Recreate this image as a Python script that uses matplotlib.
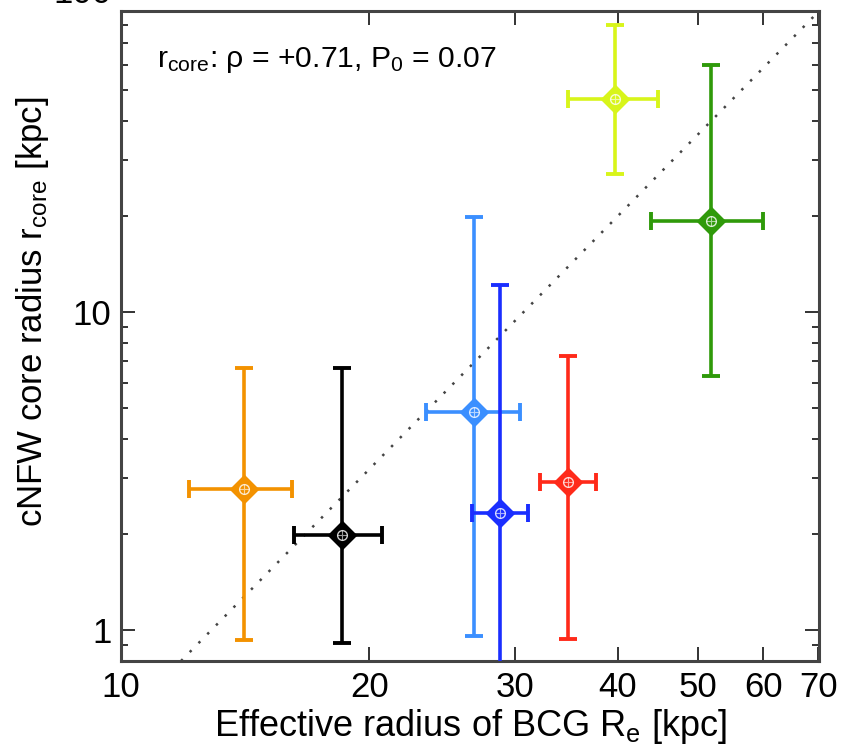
import matplotlib
matplotlib.use("Agg")
import matplotlib.pyplot as plt
from matplotlib.ticker import FixedLocator, NullFormatter, FixedFormatter
import numpy as np

plt.rcParams['font.family'] = ['Liberation Sans', 'DejaVu Sans']
plt.rcParams['mathtext.default'] = 'regular'

# ---- data ----
colors = ['#f39200', '#000000', '#3b8fff', '#1a2eff', '#ff2a1a', '#d8f51a', '#2f9a0a']
re_val = [14.1, 18.5, 26.8, 28.8, 34.8, 39.7, 51.9]
re_lo  = [12.1, 16.2, 23.4, 26.6, 32.2, 34.8, 43.9]
re_hi  = [16.1, 20.7, 30.4, 31.1, 37.6, 44.7, 59.9]
rc_val = [2.78, 1.99, 4.85, 2.33, 2.92, 46.7, 19.4]
rc_lo  = [0.93, 0.91, 0.96, 0.50, 0.94, 27.2, 6.3]
rc_hi  = [6.67, 6.67, 19.9, 12.2, 7.27, 79.9, 59.8]

line_x = [11.85, 69.0]
line_y = [0.805, 84.7]

xticks = [10, 20, 30, 40, 50, 60, 70]
xticklabels = ['10', '20', '30', '40', '50', '60', '70']
yticks = [1, 10, 100]
yticklabels = ['1', '10', '100']

fig = plt.figure(figsize=(8.42, 7.56), dpi=100)
ax = fig.add_axes([121/842, 1-661/756, 698/842, 650/756])
ax.set_xscale('log')
ax.set_yscale('log')
ax.set_xlim(10, 70.1)
ax.set_ylim(0.8, 88.4)

# dotted relation line
ax.axline((line_x[0], line_y[0]), (line_x[1], line_y[1]), color='#444444',
          linestyle=(0, (1, 4.0)), linewidth=1.8, zorder=1)

for i in range(len(re_val)):
    c = colors[i]
    x, y = re_val[i], rc_val[i]
    xerr = [[x - re_lo[i]], [re_hi[i] - x]]
    yerr = [[y - rc_lo[i]], [rc_hi[i] - y]]
    ax.errorbar([x], [y], xerr=xerr, yerr=yerr, fmt='none', ecolor=c,
                elinewidth=2.6, capsize=6.5, capthick=2.8, zorder=3)
    ax.plot([x], [y], marker='D', ms=13, mfc=c, mec=c, mew=2.0,
            linestyle='none', zorder=4)
    ax.plot([x], [y], marker='o', ms=7, mfc='none', mec='white', mew=1.0,
            linestyle='none', zorder=5, alpha=0.8)
    ax.plot([x], [y], marker='+', ms=7, mec='white', mew=0.8,
            linestyle='none', zorder=5, alpha=0.6)

# ticks
ax.xaxis.set_major_locator(FixedLocator(xticks))
ax.xaxis.set_major_formatter(FixedFormatter(xticklabels))
ax.xaxis.set_minor_locator(FixedLocator([]))
ax.xaxis.set_minor_formatter(NullFormatter())
ax.yaxis.set_major_locator(FixedLocator(yticks))
ax.yaxis.set_major_formatter(FixedFormatter(yticklabels))
yminor = [m * d for d in (0.1, 1, 10) for m in range(2, 10)]
ax.yaxis.set_minor_locator(FixedLocator(yminor))
ax.yaxis.set_minor_formatter(NullFormatter())

ax.tick_params(which='both', direction='in', top=True, right=True,
               color='#333333', labelsize=25)
ax.tick_params(which='major', length=10, width=1.4, pad=7)
ax.tick_params(which='minor', length=5, width=1.4)

# partially visible label at the top (100)
ax.text(-0.014, 100, '100', transform=ax.get_yaxis_transform(),
        ha='right', va='center', fontsize=25, clip_on=False)

for s in ax.spines.values():
    s.set_linewidth(2.2)
    s.set_color('#444444')

ax.set_xlabel(r'Effective radius of BCG R$_e$ [kpc]', fontsize=26, labelpad=2)
ax.set_ylabel(r'cNFW core radius r$_{core}$ [kpc]', fontsize=25)
ax.yaxis.set_label_coords(-0.1, 0.537)

ax.text(0.052, 0.914, r'r$_{core}$: ρ = +0.71, P$_0$ = 0.07', transform=ax.transAxes,
        fontsize=21.7, ha='left', va='baseline')

fig.savefig('out.png', dpi=100)
